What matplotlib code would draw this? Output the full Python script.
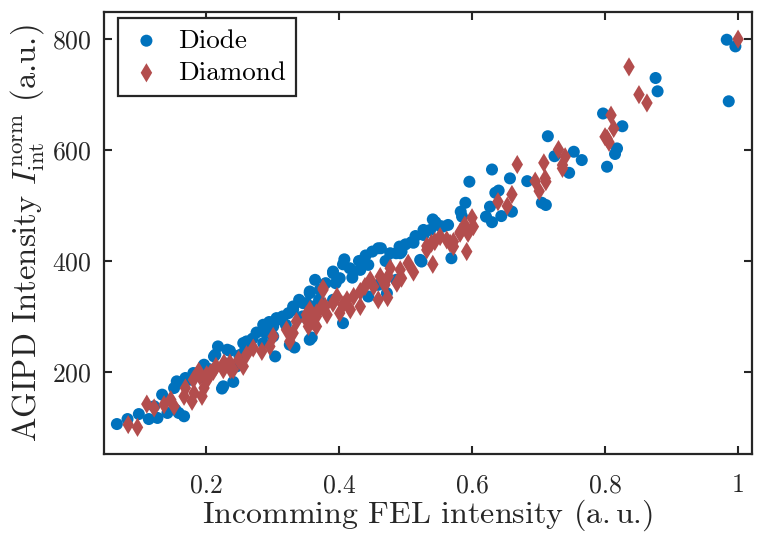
import matplotlib
matplotlib.use("Agg")
import matplotlib.pyplot as plt
from matplotlib.ticker import FormatStrFormatter

plt.rcParams['font.family'] = 'serif'
plt.rcParams['font.serif'] = ['cmr10', 'DejaVu Serif']
plt.rcParams['mathtext.fontset'] = 'cm'
plt.rcParams['axes.formatter.use_mathtext'] = True

# Diode points (x, y)
diode_x = [0.066, 0.082, 0.099, 0.114, 0.127, 0.122, 0.142, 0.154, 0.159, 0.167,
           0.134, 0.152, 0.156, 0.159, 0.169, 0.176, 0.182, 0.171, 0.181, 0.191,
           0.197, 0.212, 0.214, 0.218, 0.232, 0.236, 0.224, 0.226, 0.241, 0.246,
           0.256, 0.256, 0.261, 0.276, 0.286, 0.286, 0.301, 0.301, 0.304, 0.306,
           0.306, 0.314, 0.324, 0.326, 0.331, 0.331, 0.333, 0.346, 0.351, 0.356,
           0.356, 0.356, 0.359, 0.361, 0.364, 0.371, 0.391, 0.391, 0.391, 0.401,
           0.406, 0.408, 0.406, 0.416, 0.422, 0.432, 0.444, 0.450, 0.459, 0.463,
           0.477, 0.486, 0.491, 0.492, 0.494, 0.459, 0.444, 0.472, 0.486, 0.509,
           0.512, 0.522, 0.524, 0.527, 0.527, 0.537, 0.541, 0.552, 0.564, 0.569,
           0.583, 0.596, 0.621, 0.627, 0.630, 0.630, 0.635, 0.640, 0.644, 0.657,
           0.660, 0.683, 0.705, 0.711, 0.714, 0.724, 0.746, 0.753, 0.765, 0.797,
           0.803, 0.815, 0.818, 0.826, 0.876, 0.879, 0.983, 0.986, 0.996,
           0.196, 0.205, 0.230, 0.250, 0.265, 0.270, 0.290, 0.295, 0.315, 0.320,
           0.340, 0.345, 0.370, 0.380, 0.395, 0.420, 0.430, 0.440, 0.470, 0.500,
           0.515, 0.545, 0.556, 0.585, 0.590]
diode_y = [106, 115, 124, 115, 117, 138, 126, 132, 126, 120,
           159, 171, 183, 180, 189, 186, 195, 186, 198, 201,
           213, 228, 231, 246, 240, 238, 170, 174, 182, 210,
           234, 252, 255, 271, 285, 252, 282, 264, 228, 294,
           297, 294, 306, 249, 318, 312, 244, 324, 324, 342,
           345, 258, 262, 318, 366, 348, 378, 381, 330, 369,
           394, 403, 288, 387, 381, 384, 393, 417, 423, 423,
           414, 414, 426, 414, 417, 357, 336, 342, 366, 434,
           433, 402, 399, 447, 456, 456, 475, 463, 465, 405,
           489, 543, 480, 498, 470, 565, 523, 527, 481, 549,
           489, 544, 505, 501, 625, 589, 559, 597, 582, 666,
           570, 593, 603, 643, 730, 706, 799, 688, 787,
           190, 205, 215, 230, 240, 260, 270, 290, 300, 285,
           330, 300, 330, 360, 360, 370, 400, 410, 400, 430,
           445, 470, 462, 480, 505]

# Diamond points (x, y)
diamond_x = [0.083, 0.097, 0.111, 0.122, 0.137, 0.147, 0.152, 0.167, 0.169, 0.179,
             0.182, 0.181, 0.191, 0.194, 0.197, 0.201, 0.202, 0.207, 0.189, 0.211,
             0.215, 0.226, 0.227, 0.237, 0.236, 0.241, 0.249, 0.256, 0.261, 0.271,
             0.284, 0.296, 0.301, 0.326, 0.321, 0.331, 0.336, 0.351, 0.351, 0.354,
             0.356, 0.361, 0.366, 0.366, 0.366, 0.374, 0.376, 0.376, 0.379, 0.382,
             0.391, 0.397, 0.401, 0.406, 0.412, 0.417, 0.422, 0.432, 0.432, 0.439,
             0.447, 0.452, 0.459, 0.462, 0.469, 0.473, 0.474, 0.477, 0.487, 0.492,
             0.494, 0.504, 0.512, 0.532, 0.532, 0.539, 0.541, 0.544, 0.552, 0.562,
             0.567, 0.572, 0.572, 0.582, 0.582, 0.589, 0.592, 0.594, 0.600, 0.602,
             0.639, 0.653, 0.660, 0.668, 0.695, 0.701, 0.708, 0.710, 0.711, 0.730,
             0.736, 0.736, 0.740, 0.800, 0.803, 0.806, 0.809, 0.813, 0.836, 0.851,
             0.863, 1.000]
diamond_y = [105, 100, 142, 135, 141, 150, 138, 156, 171, 147,
             162, 186, 192, 156, 171, 195, 186, 198, 201, 201,
             210, 204, 216, 204, 216, 204, 222, 210, 231, 243,
             237, 246, 264, 255, 276, 270, 291, 294, 303, 282,
             312, 291, 300, 306, 282, 318, 348, 351, 318, 303,
             324, 336, 306, 321, 330, 312, 336, 345, 318, 354,
             366, 354, 330, 372, 357, 334, 372, 387, 360, 384,
             369, 396, 380, 420, 427, 432, 394, 435, 444, 438,
             432, 426, 435, 450, 452, 465, 417, 450, 478, 462,
             507, 499, 520, 574, 544, 526, 577, 549, 543, 601,
             573, 567, 588, 624, 621, 614, 663, 639, 750, 700,
             685, 800]

fig = plt.figure(figsize=(7.68, 5.36), dpi=100)
ax = fig.add_axes([0.1354, 0.153, 0.8438, 0.8246])

ax.scatter(diode_x, diode_y, s=75, marker='o', color='#0072BD',
           edgecolors='none', label='Diode', zorder=2)
ax.scatter(diamond_x, diamond_y, s=95, marker='d', color='#B34D4D',
           edgecolors='none', label='Diamond', zorder=3)

ax.set_xlim(0.0466, 1.021)
ax.set_ylim(52, 849)
ax.set_xticks([0.2, 0.4, 0.6, 0.8, 1.0])
ax.set_yticks([200, 400, 600, 800])
ax.xaxis.set_major_formatter(FormatStrFormatter('%g'))
ax.tick_params(direction='in', length=6, width=1.5, labelsize=18.5,
               top=True, right=True, colors='#262626', labelcolor='#262626')
ax.tick_params(axis='x', pad=14)
ax.tick_params(axis='y', pad=9)
for sp in ax.spines.values():
    sp.set_linewidth(1.6)
    sp.set_color('#262626')

ax.set_xlabel('Incomming FEL intensity (a.$\\,$u.)', fontsize=23, color='#262626', labelpad=0)
ax.set_ylabel('AGIPD Intensity $I_{\\mathrm{int}}^{\\mathrm{norm}}$ (a.u.)', fontsize=23.5,
              color='#262626', labelpad=4)

leg = ax.legend(loc='upper left', fontsize=19.5, fancybox=False, framealpha=1,
                edgecolor='#262626', borderpad=0.4, handletextpad=0.5,
                labelspacing=0.3, handlelength=1.3, borderaxespad=0,
                bbox_to_anchor=(0.0216, 0.9864))
leg.get_frame().set_linewidth(1.6)

fig.savefig('out.png', dpi=100)
